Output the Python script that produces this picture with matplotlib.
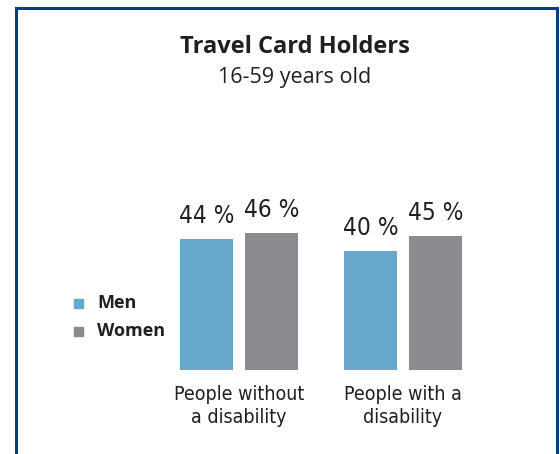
import matplotlib.pyplot as plt
from matplotlib.lines import Line2D
import numpy as np

# data
groups = ['People without\na disability', 'People with a\ndisability']
series = ['Men', 'Women']
men = [44, 40]
women = [46, 45]
colors = ['#67a8cc', '#898b8e']

W, H = 560, 454
fig = plt.figure(figsize=(W / 100, H / 100), dpi=100)
plt.rcParams['font.family'] = ['DejaVu Sans']
narrow = dict(family='DejaVu Sans', fontstretch='condensed')

# axes covers the full width, baseline at 370 px from top
ax = fig.add_axes([0, 84 / H, 1, 370 / H])
ax.set_xlim(-239 / 164, (W - 239) / 164)
ax.set_ylim(0, 370 / 2.98)
ax.axis('off')

x = np.arange(len(groups))
bw = 53 / 164
off = 32.5 / 164
for vals, dx, c in [(men, -off, colors[0]), (women, off, colors[1])]:
    bars = ax.bar(x + dx, vals, width=bw, color=c)
    for b, v in zip(bars, vals):
        ax.text(b.get_x() + b.get_width() / 2, v + 3.6, f'{v} %',
                ha='center', va='bottom', fontsize=17.5, color='#231f20', **narrow)

# category labels under the bars
for xi, g in zip(x, groups):
    ax.text(xi, -5, g, ha='center', va='top', fontsize=14,
            color='#231f20', linespacing=1.3, **narrow)

# titles
fig.text(295 / W, 1 - 47 / H, 'Travel Card Holders', ha='center', va='center',
         fontsize=17, fontweight='bold', color='#231f20',
         family=['Open Sans', 'DejaVu Sans'])
fig.text(295 / W, 1 - 78 / H, '16-59 years old', ha='center', va='center',
         fontsize=15.5, color='#231f20', family=['Open Sans', 'DejaVu Sans'])

# legend
for i, (s, c) in enumerate(zip(series, colors)):
    y = 1 - (303 + 28 * i) / H
    fig.patches.append(plt.Rectangle((74 / W, y - 4.5 / H), 9 / W, 9 / H,
                                     transform=fig.transFigure, color=c))
    fig.text(97 / W, y, s, ha='left', va='center', fontsize=13,
             fontweight='bold', color='#231f20', family=['Open Sans', 'DejaVu Sans'])

# frame (open at the bottom)
frame = '#0b3d7a'
fig.add_artist(Line2D([16 / W, 16 / W], [0, 1 - 8 / H], color=frame, lw=2.2,
                      transform=fig.transFigure))
fig.add_artist(Line2D([16 / W, 557 / W], [1 - 8 / H, 1 - 8 / H], color=frame, lw=2.2,
                      transform=fig.transFigure))
fig.add_artist(Line2D([557 / W, 557 / W], [0, 1 - 8 / H], color=frame, lw=2.2,
                      transform=fig.transFigure))

fig.savefig('out.png', dpi=100)
